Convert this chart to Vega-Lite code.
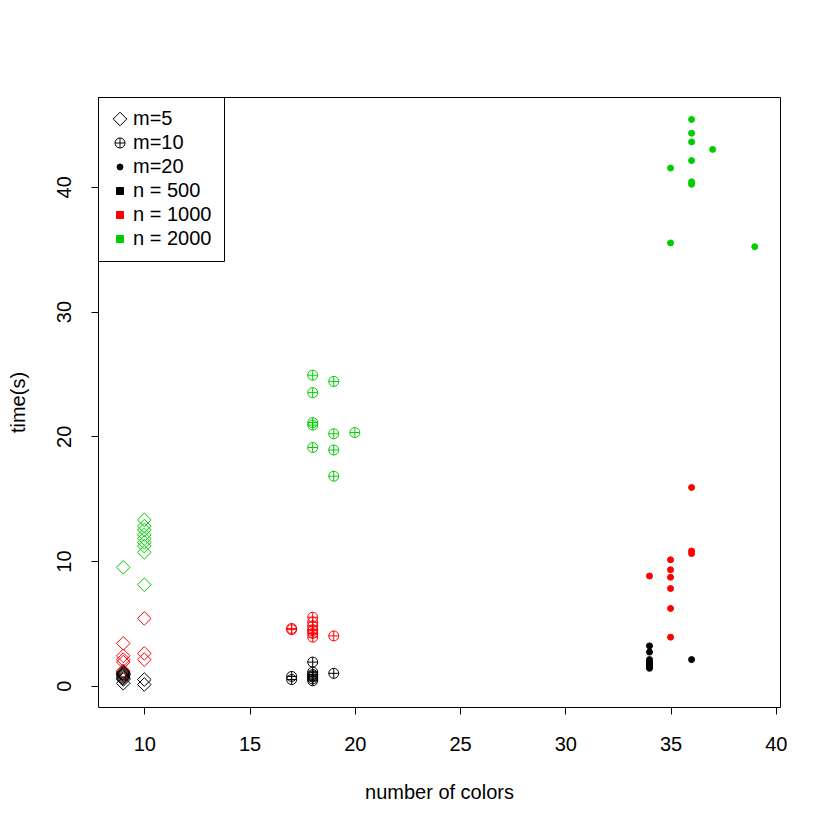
{
  "$schema": "https://vega.github.io/schema/vega-lite/v6.json",
  "autosize": {"type": "none"},
  "width": 682,
  "height": 610,
  "padding": {"left": 98, "top": 97, "right": 50, "bottom": 123},
  "background": "white",
  "config": {
    "font": "Liberation Sans",
    "view": {"stroke": "black", "strokeWidth": 1},
    "axis": {
      "grid": false,
      "domain": false,
      "tickColor": "black",
      "tickSize": 7,
      "tickWidth": 1,
      "labelColor": "black",
      "labelFontSize": 20,
      "labelFont": "Liberation Sans",
      "titleFont": "Liberation Sans",
      "titleFontSize": 20,
      "titleFontWeight": "normal",
      "titleColor": "black",
      "labelFlush": false,
      "labelOverlap": false
    },
    "legend": {
      "title": null,
      "orient": "none",
      "legendX": 0,
      "legendY": 0,
      "direction": "vertical",
      "padding": 12,
      "strokeColor": "black",
      "fillColor": "white",
      "cornerRadius": 0,
      "labelFontSize": 20,
      "labelFont": "Liberation Sans",
      "labelColor": "black",
      "labelOffset": 3,
      "rowPadding": 4,
      "symbolStrokeWidth": 1,
      "symbolOpacity": 1
    }
  },
  "data": {
    "values": [
      {"x": 9, "t": 9.5, "m": "m=5", "n": "n = 2000"},
      {"x": 10, "t": 13.3, "m": "m=5", "n": "n = 2000"},
      {"x": 10, "t": 12.8, "m": "m=5", "n": "n = 2000"},
      {"x": 10, "t": 12.5, "m": "m=5", "n": "n = 2000"},
      {"x": 10, "t": 12.1, "m": "m=5", "n": "n = 2000"},
      {"x": 10, "t": 11.8, "m": "m=5", "n": "n = 2000"},
      {"x": 10, "t": 11.5, "m": "m=5", "n": "n = 2000"},
      {"x": 10, "t": 11.2, "m": "m=5", "n": "n = 2000"},
      {"x": 10, "t": 10.7, "m": "m=5", "n": "n = 2000"},
      {"x": 10, "t": 8.1, "m": "m=5", "n": "n = 2000"},
      {"x": 9, "t": 3.4, "m": "m=5", "n": "n = 1000"},
      {"x": 9, "t": 2.4, "m": "m=5", "n": "n = 1000"},
      {"x": 9, "t": 2.1, "m": "m=5", "n": "n = 1000"},
      {"x": 9, "t": 1.9, "m": "m=5", "n": "n = 1000"},
      {"x": 9, "t": 1.2, "m": "m=5", "n": "n = 1000"},
      {"x": 9, "t": 1.0, "m": "m=5", "n": "n = 1000"},
      {"x": 9, "t": 0.9, "m": "m=5", "n": "n = 1000"},
      {"x": 10, "t": 5.4, "m": "m=5", "n": "n = 1000"},
      {"x": 10, "t": 2.6, "m": "m=5", "n": "n = 1000"},
      {"x": 10, "t": 2.1, "m": "m=5", "n": "n = 1000"},
      {"x": 9, "t": 1.1, "m": "m=5", "n": "n = 500"},
      {"x": 9, "t": 1.0, "m": "m=5", "n": "n = 500"},
      {"x": 9, "t": 0.9, "m": "m=5", "n": "n = 500"},
      {"x": 9, "t": 0.8, "m": "m=5", "n": "n = 500"},
      {"x": 9, "t": 0.7, "m": "m=5", "n": "n = 500"},
      {"x": 9, "t": 0.6, "m": "m=5", "n": "n = 500"},
      {"x": 9, "t": 0.5, "m": "m=5", "n": "n = 500"},
      {"x": 9, "t": 0.2, "m": "m=5", "n": "n = 500"},
      {"x": 10, "t": 0.5, "m": "m=5", "n": "n = 500"},
      {"x": 10, "t": 0.1, "m": "m=5", "n": "n = 500"},
      {"x": 18, "t": 24.9, "m": "m=10", "n": "n = 2000"},
      {"x": 18, "t": 23.5, "m": "m=10", "n": "n = 2000"},
      {"x": 18, "t": 21.1, "m": "m=10", "n": "n = 2000"},
      {"x": 18, "t": 20.9, "m": "m=10", "n": "n = 2000"},
      {"x": 18, "t": 19.1, "m": "m=10", "n": "n = 2000"},
      {"x": 19, "t": 24.4, "m": "m=10", "n": "n = 2000"},
      {"x": 19, "t": 20.2, "m": "m=10", "n": "n = 2000"},
      {"x": 19, "t": 18.9, "m": "m=10", "n": "n = 2000"},
      {"x": 19, "t": 16.8, "m": "m=10", "n": "n = 2000"},
      {"x": 20, "t": 20.3, "m": "m=10", "n": "n = 2000"},
      {"x": 17, "t": 4.6, "m": "m=10", "n": "n = 1000"},
      {"x": 17, "t": 4.5, "m": "m=10", "n": "n = 1000"},
      {"x": 18, "t": 5.5, "m": "m=10", "n": "n = 1000"},
      {"x": 18, "t": 5.1, "m": "m=10", "n": "n = 1000"},
      {"x": 18, "t": 4.8, "m": "m=10", "n": "n = 1000"},
      {"x": 18, "t": 4.5, "m": "m=10", "n": "n = 1000"},
      {"x": 18, "t": 4.2, "m": "m=10", "n": "n = 1000"},
      {"x": 18, "t": 3.9, "m": "m=10", "n": "n = 1000"},
      {"x": 18, "t": 4.4, "m": "m=10", "n": "n = 1000"},
      {"x": 19, "t": 4.0, "m": "m=10", "n": "n = 1000"},
      {"x": 17, "t": 0.75, "m": "m=10", "n": "n = 500"},
      {"x": 17, "t": 0.5, "m": "m=10", "n": "n = 500"},
      {"x": 18, "t": 1.9, "m": "m=10", "n": "n = 500"},
      {"x": 18, "t": 1.1, "m": "m=10", "n": "n = 500"},
      {"x": 18, "t": 0.9, "m": "m=10", "n": "n = 500"},
      {"x": 18, "t": 0.7, "m": "m=10", "n": "n = 500"},
      {"x": 18, "t": 0.55, "m": "m=10", "n": "n = 500"},
      {"x": 18, "t": 0.4, "m": "m=10", "n": "n = 500"},
      {"x": 18, "t": 0.8, "m": "m=10", "n": "n = 500"},
      {"x": 19, "t": 1.0, "m": "m=10", "n": "n = 500"},
      {"x": 36, "t": 45.4, "m": "m=20", "n": "n = 2000"},
      {"x": 36, "t": 44.3, "m": "m=20", "n": "n = 2000"},
      {"x": 36, "t": 43.6, "m": "m=20", "n": "n = 2000"},
      {"x": 36, "t": 42.1, "m": "m=20", "n": "n = 2000"},
      {"x": 36, "t": 40.4, "m": "m=20", "n": "n = 2000"},
      {"x": 36, "t": 40.2, "m": "m=20", "n": "n = 2000"},
      {"x": 37, "t": 43.0, "m": "m=20", "n": "n = 2000"},
      {"x": 35, "t": 41.5, "m": "m=20", "n": "n = 2000"},
      {"x": 35, "t": 35.5, "m": "m=20", "n": "n = 2000"},
      {"x": 39, "t": 35.2, "m": "m=20", "n": "n = 2000"},
      {"x": 36, "t": 15.9, "m": "m=20", "n": "n = 1000"},
      {"x": 36, "t": 10.8, "m": "m=20", "n": "n = 1000"},
      {"x": 36, "t": 10.6, "m": "m=20", "n": "n = 1000"},
      {"x": 34, "t": 8.8, "m": "m=20", "n": "n = 1000"},
      {"x": 35, "t": 10.1, "m": "m=20", "n": "n = 1000"},
      {"x": 35, "t": 9.3, "m": "m=20", "n": "n = 1000"},
      {"x": 35, "t": 8.7, "m": "m=20", "n": "n = 1000"},
      {"x": 35, "t": 7.8, "m": "m=20", "n": "n = 1000"},
      {"x": 35, "t": 6.2, "m": "m=20", "n": "n = 1000"},
      {"x": 35, "t": 3.9, "m": "m=20", "n": "n = 1000"},
      {"x": 34, "t": 3.2, "m": "m=20", "n": "n = 500"},
      {"x": 34, "t": 2.7, "m": "m=20", "n": "n = 500"},
      {"x": 34, "t": 2.1, "m": "m=20", "n": "n = 500"},
      {"x": 34, "t": 1.9, "m": "m=20", "n": "n = 500"},
      {"x": 34, "t": 1.8, "m": "m=20", "n": "n = 500"},
      {"x": 34, "t": 1.65, "m": "m=20", "n": "n = 500"},
      {"x": 34, "t": 1.5, "m": "m=20", "n": "n = 500"},
      {"x": 34, "t": 1.4, "m": "m=20", "n": "n = 500"},
      {"x": 34, "t": 1.6, "m": "m=20", "n": "n = 500"},
      {"x": 36, "t": 2.1, "m": "m=20", "n": "n = 500"}
    ]
  },
  "mark": {"type": "point", "filled": false, "strokeWidth": 1, "opacity": 1},
  "encoding": {
    "x": {
      "field": "x", "type": "quantitative",
      "scale": {"domain": [7.8, 40.2], "nice": false, "zero": false},
      "axis": {"values": [10, 15, 20, 25, 30, 35, 40], "title": "number of colors", "labelPadding": 20, "titlePadding": 28}
    },
    "y": {
      "field": "t", "type": "quantitative",
      "scale": {"domain": [-1.7, 47.2], "nice": false, "zero": false},
      "axis": {"values": [0, 10, 20, 30, 40], "title": "time(s)", "labelAngle": -90, "labelAlign": "center", "labelBaseline": "bottom", "labelPadding": 17, "titlePadding": 26}
    },
    "shape": {
      "field": "m", "type": "nominal",
      "scale": {
        "domain": ["m=5", "m=10", "m=20", "n = 500", "n = 1000", "n = 2000"],
        "range": ["diamond", "M-1,0A1,1,0,1,0,1,0A1,1,0,1,0,-1,0ZM-1,0L1,0M0,-1L0,1", "circle", "square", "square", "square"]
      },
      "legend": {"title": null}
    },
    "size": {
      "field": "m", "type": "nominal",
      "scale": {
        "type": "ordinal",
        "domain": ["m=5", "m=10", "m=20", "n = 500", "n = 1000", "n = 2000"],
        "range": [185, 100, 36, 49, 49, 49]
      },
      "legend": {"title": null}
    },
    "fill": {
      "condition": {
        "test": "datum.m === 'm=20'",
        "field": "n", "type": "nominal",
        "scale": {
          "domain": ["m=5", "m=10", "m=20", "n = 500", "n = 1000", "n = 2000"],
          "range": ["transparent", "transparent", "black", "black", "#FF0000", "#00CD00"]
        },
        "legend": {"title": null}
      },
      "value": "transparent"
    },
    "color": {
      "field": "n", "type": "nominal",
      "scale": {
        "domain": ["m=5", "m=10", "m=20", "n = 500", "n = 1000", "n = 2000"],
        "range": ["black", "black", "black", "black", "#FF0000", "#00CD00"]
      },
      "legend": {"title": null}
    }
  }
}
